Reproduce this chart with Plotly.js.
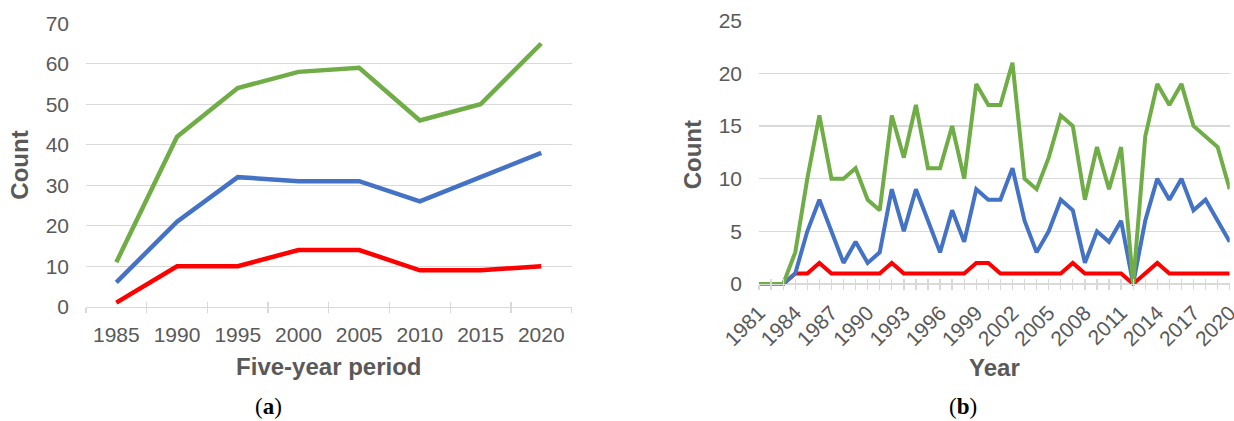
<!DOCTYPE html>
<html>
<head>
<meta charset="utf-8">
<script src="https://cdn.plot.ly/plotly-3.0.1.min.js"></script>
<style>html,body{margin:0;padding:0;background:#fff;overflow:hidden;}#chart{width:1234px;height:421px;}</style>
</head>
<body>
<div id="chart"></div>
<script>
// ----- Panel (a): five-year periods -----
var periods = ['1985', '1990', '1995', '2000', '2005', '2010', '2015', '2020'];
var greenA = [11, 42, 54, 58, 59, 46, 50, 65];
var blueA  = [6, 21, 32, 31, 31, 26, 32, 38];
var redA   = [1, 10, 10, 14, 14, 9, 9, 10];

// ----- Panel (b): yearly -----
var years = [1981, 1982, 1983, 1984, 1985, 1986, 1987, 1988, 1989, 1990,
             1991, 1992, 1993, 1994, 1995, 1996, 1997, 1998, 1999, 2000,
             2001, 2002, 2003, 2004, 2005, 2006, 2007, 2008, 2009, 2010,
             2011, 2012, 2013, 2014, 2015, 2016, 2017, 2018, 2019, 2020];
var greenB = [0, 0, 0, 3, 10, 16, 10, 10, 11, 8,
              7, 16, 12, 17, 11, 11, 15, 10, 19, 17,
              17, 21, 10, 9, 12, 16, 15, 8, 13, 9,
              13, 0, 14, 19, 17, 19, 15, 14, 13, 9];
var blueB  = [0, 0, 0, 1, 5, 8, 5, 2, 4, 2,
              3, 9, 5, 9, 6, 3, 7, 4, 9, 8,
              8, 11, 6, 3, 5, 8, 7, 2, 5, 4,
              6, 0, 6, 10, 8, 10, 7, 8, 6, 4];
var redB   = [0, 0, 0, 1, 1, 2, 1, 1, 1, 1,
              1, 2, 1, 1, 1, 1, 1, 1, 2, 2,
              1, 1, 1, 1, 1, 1, 2, 1, 1, 1,
              1, 0, 1, 2, 1, 1, 1, 1, 1, 1];
var yearLabels = ['1981', '1984', '1987', '1990', '1993', '1996', '1999',
                  '2002', '2005', '2008', '2011', '2014', '2017', '2020'];

var GREEN = '#70AD47', BLUE = '#4472C4', RED = '#FF0000';
var GRID = '#D9D9D9', TXT = '#595959';

var yearTickText = years.map(function (y) {
  return yearLabels.indexOf(String(y)) >= 0 ? String(y) : '';
});

function line(x, y, color, w, xa, ya) {
  return {x: x, y: y, type: 'scatter', mode: 'lines', xaxis: xa, yaxis: ya,
          line: {color: color, width: w}, hoverinfo: 'skip', showlegend: false};
}
var traces = [
  line(periods, redA, RED, 4.5, 'x', 'y'),
  line(periods, blueA, BLUE, 4.5, 'x', 'y'),
  line(periods, greenA, GREEN, 4.5, 'x', 'y'),
  line(years, redB, RED, 4, 'x2', 'y2'),
  line(years, blueB, BLUE, 4, 'x2', 'y2'),
  line(years, greenB, GREEN, 4, 'x2', 'y2'),
  // helper traces for the overlay axes that draw the upward half of the tick marks
  {x: periods, y: redA, type: 'scatter', mode: 'lines', xaxis: 'x3', yaxis: 'y',
   line: {width: 0}, opacity: 0, hoverinfo: 'skip', showlegend: false},
  {x: years, y: redB, type: 'scatter', mode: 'lines', xaxis: 'x4', yaxis: 'y2',
   line: {width: 0}, opacity: 0, hoverinfo: 'skip', showlegend: false}
];

var tickFont = {family: 'Liberation Sans, Arial, sans-serif', size: 21, color: TXT};
var titleFont = {family: 'Liberation Sans, Arial, sans-serif', size: 24, color: TXT, weight: 700};

var layout = {
  width: 1234, height: 421,
  margin: {l: 0, r: 0, t: 0, b: 0},
  paper_bgcolor: '#fff', plot_bgcolor: 'rgba(0,0,0,0)',
  showlegend: false,
  font: {family: 'Liberation Sans, Arial, sans-serif', color: TXT},
  xaxis: {
    domain: [0.06969, 0.46321], anchor: 'y', type: 'category',
    categoryorder: 'array', categoryarray: periods, range: [-0.5, 7.5],
    tickson: 'boundaries', ticks: 'outside', ticklen: 5, tickwidth: 1.3, tickcolor: GRID,
    showline: true, linecolor: GRID, linewidth: 1.3, showgrid: false, zeroline: false,
    tickfont: tickFont, ticklabelstandoff: 9,
    title: {text: 'Five-year period', font: titleFont, standoff: 13}
  },
  xaxis3: {
    overlaying: 'x', anchor: 'y', type: 'category',
    categoryorder: 'array', categoryarray: periods, range: [-0.5, 7.5],
    tickson: 'boundaries', ticks: 'inside', ticklen: 5, tickwidth: 1.3, tickcolor: GRID,
    showticklabels: false, showline: false, showgrid: false, zeroline: false
  },
  yaxis: {
    domain: [0.2715, 0.9447], anchor: 'x', range: [0, 70], dtick: 10,
    showgrid: true, gridcolor: GRID, gridwidth: 1.3, zeroline: false, showline: false,
    ticks: '', tickfont: tickFont, ticklabelstandoff: 16,
    title: {text: 'Count', font: titleFont, standoff: 10}
  },
  xaxis2: {
    domain: [0.6151, 0.99652], anchor: 'free', position: 0.32542,
    range: [1981, 2020], tickmode: 'array', tickvals: years, ticktext: yearTickText,
    tickangle: -45, ticks: 'outside', ticklen: 5, tickwidth: 1.3, tickcolor: GRID,
    showline: true, linecolor: GRID, linewidth: 1.3, showgrid: false, zeroline: false,
    tickfont: tickFont, ticklabeloverflow: 'allow', ticklabelstandoff: 2,
    title: {text: 'Year', font: titleFont, standoff: 10}
  },
  xaxis4: {
    overlaying: 'x2', anchor: 'free', position: 0.32542,
    range: [1981, 2020], tickmode: 'array', tickvals: years,
    ticks: 'inside', ticklen: 5, tickwidth: 1.3, tickcolor: GRID,
    showticklabels: false, showline: false, showgrid: false, zeroline: false
  },
  yaxis2: {
    domain: [0.31425, 0.95083], anchor: 'x2', range: [-0.45, 25],
    tickmode: 'array', tickvals: [0, 5, 10, 15, 20, 25],
    showgrid: true, gridcolor: GRID, gridwidth: 1.3, zeroline: false, showline: false,
    ticks: '', tickfont: tickFont, ticklabelstandoff: 16,
    title: {text: 'Count', font: titleFont, standoff: 10}
  },
  annotations: [
    {text: '(<b>a</b>)', xref: 'paper', yref: 'paper', x: 0.2172, y: 0.0333,
     xanchor: 'center', yanchor: 'middle', showarrow: false,
     font: {family: 'Liberation Serif, Times New Roman, serif', size: 23, color: '#000'}},
    {text: '(<b>b</b>)', xref: 'paper', yref: 'paper', x: 0.7804, y: 0.0333,
     xanchor: 'center', yanchor: 'middle', showarrow: false,
     font: {family: 'Liberation Serif, Times New Roman, serif', size: 23, color: '#000'}}
  ]
};

Plotly.newPlot('chart', traces, layout, {staticPlot: true, displayModeBar: false});
</script>
</body>
</html>
